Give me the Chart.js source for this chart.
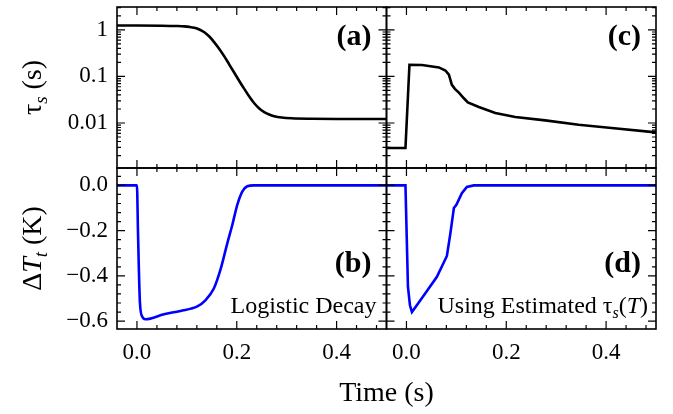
<!DOCTYPE html>
<html>
<head>
<meta charset="utf-8">
<script src="https://cdn.jsdelivr.net/npm/chart.js@4.4.0/dist/chart.umd.min.js"></script>
<style>
body { margin: 0; background: #fff; }
#wrap { width: 673px; height: 414px; position: relative; }
</style>
</head>
<body>
<div id="wrap"><canvas id="ctx"></canvas></div>
<script>
// (a) logistic decay of tau_s
const timeA = [-0.04, 0.0, 0.05, 0.08, 0.095, 0.105, 0.115, 0.125, 0.135, 0.145, 0.155, 0.165, 0.175, 0.185, 0.195, 0.205, 0.215, 0.225, 0.235, 0.245, 0.255, 0.265, 0.275, 0.29, 0.31, 0.35, 0.40, 0.50]
const tauA = [1.24, 1.24, 1.23, 1.21, 1.19, 1.16, 1.11, 1.02, 0.89, 0.72, 0.54, 0.39, 0.27, 0.18, 0.12, 0.08, 0.054, 0.037, 0.0265, 0.0205, 0.0172, 0.0152, 0.0140, 0.0131, 0.0126, 0.0123, 0.0122, 0.0122]

// (c) estimated tau_s(T)
const timeC = [-0.04, -0.002, 0.006, 0.031, 0.065, 0.078, 0.085, 0.091, 0.097, 0.105, 0.115, 0.123, 0.145, 0.178, 0.218, 0.278, 0.345, 0.411, 0.5]
const tauC = [0.0029, 0.0029, 0.178, 0.176, 0.156, 0.134, 0.109, 0.066, 0.054, 0.045, 0.034, 0.0277, 0.022, 0.0164, 0.0134, 0.0114, 0.0092, 0.0078, 0.0063]

// (b) delta T_t, logistic decay
const timeB = [-0.04, 0.0, 0.002, 0.006, 0.011, 0.017, 0.054, 0.087, 0.121, 0.137, 0.154, 0.167, 0.181, 0.191, 0.201, 0.211, 0.221, 0.234, 0.30, 0.50]
const dTB = [0, 0, -0.2, -0.52, -0.582, -0.592, -0.570, -0.555, -0.535, -0.508, -0.456, -0.375, -0.256, -0.175, -0.086, -0.027, -0.004, 0, 0, 0]

// (d) delta T_t, estimated tau_s(T)
const timeD = [-0.04, -0.002, 0.003, 0.007, 0.011, 0.035, 0.061, 0.081, 0.088, 0.095, 0.1, 0.111, 0.121, 0.135, 0.20, 0.50]
const dTD = [0, 0, -0.449, -0.53, -0.56, -0.486, -0.404, -0.312, -0.212, -0.1, -0.086, -0.034, -0.007, 0, 0, 0]

const xTickValues = [0, 0.2, 0.4]
const xTickLabels = ['0.0', '0.2', '0.4']
const xMinorValues = [0.04, 0.08, 0.12, 0.16, 0.24, 0.28, 0.32, 0.36, 0.44, 0.48]
const tauTickValues = [0.01, 0.1, 1]
const tauTickLabels = ['0.01', '0.1', '1']
const dTTickValues = [0, -0.2, -0.4, -0.6]
const dTTickLabels = ['0.0', '\u22120.2', '\u22120.4', '\u22120.6']
const dTMinorValues = [0.04, -0.04, -0.08, -0.12, -0.16, -0.24, -0.28, -0.32, -0.36, -0.44, -0.48, -0.52, -0.56]

const serif = '"Liberation Serif", "Times New Roman", serif'
const tickFont = { family: serif, size: 23 }

const toPoints = (xs, ys) => xs.map((x, i) => ({ x: x, y: ys[i] }))

const tauMinorValues = []
for (let k = -3; k <= 0; k++) {
    for (let m = 2; m <= 9; m++) {
        tauMinorValues.push(m * Math.pow(10, k))
    }
}

const panels = [
    { x: 'xL', y: 'yTau', xMinor: xMinorValues, yMajor: tauTickValues, yMinor: tauMinorValues, tag: '(a)' },
    { x: 'xR', y: 'yTau', xMinor: xMinorValues, yMajor: tauTickValues, yMinor: tauMinorValues, tag: '(c)' },
    { x: 'xL', y: 'yDT', xMinor: xMinorValues, yMajor: dTTickValues, yMinor: dTMinorValues, tag: '(b)' },
    { x: 'xR', y: 'yDT', xMinor: xMinorValues, yMajor: dTTickValues, yMinor: dTMinorValues, tag: '(d)' }
]

const drawRich = (ctx, parts, x, y, align) => {
    let w = 0
    parts.forEach(p => { ctx.font = p.font; w += ctx.measureText(p.text).width })
    let cx = align === 'right' ? x - w : (align === 'center' ? x - w / 2 : x)
    parts.forEach(p => {
        ctx.font = p.font
        ctx.fillText(p.text, cx, y + (p.dy || 0))
        cx += ctx.measureText(p.text).width
    })
}

// inward ticks on every side of every panel, plus the texts
const frameTicks = {
    id: 'frameTicks',
    afterDraw(chart) {
        const ctx = chart.ctx
        ctx.save()
        ctx.strokeStyle = '#000'
        ctx.fillStyle = '#000'
        panels.forEach(p => {
            const xs = chart.scales[p.x]
            const ys = chart.scales[p.y]
            const l = xs.left, r = xs.right, t = ys.top, b = ys.bottom

            const xMark = (vals, len) => {
                vals.forEach(v => {
                    const px = xs.getPixelForValue(v)
                    if (px < l || px > r) return
                    ctx.beginPath()
                    ctx.moveTo(px, b); ctx.lineTo(px, b - len)
                    ctx.moveTo(px, t); ctx.lineTo(px, t + len)
                    ctx.stroke()
                })
            }
            const yMark = (vals, len) => {
                vals.forEach(v => {
                    const py = ys.getPixelForValue(v)
                    if (py < t || py > b) return
                    ctx.beginPath()
                    ctx.moveTo(l, py); ctx.lineTo(l + len, py)
                    ctx.moveTo(r, py); ctx.lineTo(r - len, py)
                    ctx.stroke()
                })
            }
            ctx.lineWidth = 1.2
            xMark(xTickValues, 8)
            xMark(p.xMinor, 4)
            yMark(p.yMajor, 8)
            yMark(p.yMinor, 4)

            ctx.lineWidth = 1.6
            ctx.strokeRect(l, t, r - l, b - t)

            ctx.textAlign = 'left'
            ctx.textBaseline = 'alphabetic'
            const tagY = p.y === 'yTau' ? t + 38 : t + 104
            drawRich(ctx, [{ text: p.tag, font: 'bold 30px ' + serif }], r - 15, tagY, 'right')
        })

        const main = '24px ' + serif
        const sub = 'italic 16px ' + serif
        const bl = chart.scales.xL, br = chart.scales.xR, yd = chart.scales.yDT
        drawRich(ctx, [{ text: 'Logistic Decay', font: main }], bl.right - 10, yd.bottom - 16, 'right')
        drawRich(ctx, [
            { text: 'Using Estimated \u03C4', font: main },
            { text: 's', font: sub, dy: 5 },
            { text: '(', font: main },
            { text: 'T', font: 'italic 24px ' + serif },
            { text: ')', font: main }
        ], br.right - 8, yd.bottom - 16, 'right')

        // axis titles
        const area = chart.chartArea
        drawRich(ctx, [{ text: 'Time (s)', font: '28px ' + serif }], (area.left + area.right) / 2, 401, 'center')

        const yt = chart.scales.yTau
        ctx.save()
        ctx.translate(41, (yt.top + yt.bottom) / 2)
        ctx.rotate(-Math.PI / 2)
        drawRich(ctx, [
            { text: '\u03C4', font: '28px ' + serif },
            { text: 's', font: 'italic 19px ' + serif, dy: 6 },
            { text: ' (s)', font: '28px ' + serif }
        ], 0, 0, 'center')
        ctx.restore()

        ctx.save()
        ctx.translate(41, (yd.top + yd.bottom) / 2)
        ctx.rotate(-Math.PI / 2)
        drawRich(ctx, [
            { text: '\u0394', font: '28px ' + serif },
            { text: 'T', font: 'italic 28px ' + serif },
            { text: 't', font: 'italic 19px ' + serif, dy: 6 },
            { text: ' (K)', font: '28px ' + serif }
        ], 0, 0, 'center')
        ctx.restore()

        ctx.restore()
    }
}

const fixWidth = (scale) => {
    scale.width = 117
    scale.paddingTop = 0
    scale.paddingBottom = 0
}
const fixHeight = (scale) => {
    scale.height = 85
    scale.paddingLeft = 0
    scale.paddingRight = 0
}

const xAxis = () => ({
    type: 'linear',
    position: 'bottom',
    stack: 'time',
    stackWeight: 1,
    min: -0.04,
    max: 0.5,
    grid: { display: false, drawTicks: false, tickLength: 0 },
    border: { display: false },
    afterBuildTicks: (scale) => { scale.ticks = xTickValues.map(v => ({ value: v })) },
    afterFit: fixHeight,
    ticks: {
        autoSkip: false,
        maxRotation: 0,
        padding: 10,
        color: '#000',
        font: tickFont,
        callback: (value, index) => xTickLabels[index]
    }
})

const config = {
    type: 'line',
    data: {
        datasets: [
            {
                label: 'tau logistic',
                data: toPoints(timeA, tauA),
                xAxisID: 'xL', yAxisID: 'yTau',
                borderColor: '#000', borderWidth: 2.6,
                pointRadius: 0, cubicInterpolationMode: 'monotone'
            },
            {
                label: 'tau estimated',
                data: toPoints(timeC, tauC),
                xAxisID: 'xR', yAxisID: 'yTau',
                borderColor: '#000', borderWidth: 2.6,
                pointRadius: 0, tension: 0
            },
            {
                label: 'dT logistic',
                data: toPoints(timeB, dTB),
                xAxisID: 'xL', yAxisID: 'yDT',
                borderColor: '#0000ff', borderWidth: 2.6,
                pointRadius: 0, cubicInterpolationMode: 'monotone'
            },
            {
                label: 'dT estimated',
                data: toPoints(timeD, dTD),
                xAxisID: 'xR', yAxisID: 'yDT',
                borderColor: '#0000ff', borderWidth: 2.6,
                pointRadius: 0, tension: 0
            }
        ]
    },
    options: {
        responsive: true,
        maintainAspectRatio: false,
        animation: false,
        layout: { padding: { left: 0, right: 17, top: 7, bottom: 0 } },
        plugins: {
            legend: { display: false },
            tooltip: { enabled: false }
        },
        scales: {
            xL: xAxis(),
            xR: xAxis(),
            yDT: {
                type: 'linear',
                position: 'left',
                stack: 'value',
                stackWeight: 1,
                min: -0.635,
                max: 0.077,
                grid: { display: false, drawTicks: false, tickLength: 0 },
                border: { display: false },
                afterBuildTicks: (scale) => { scale.ticks = dTTickValues.map(v => ({ value: v })) },
                afterFit: fixWidth,
                ticks: {
                    autoSkip: false,
                    padding: 9,
                    color: '#000',
                    font: tickFont,
                    callback: (value, index) => dTTickLabels[index]
                }
            },
            yTau: {
                type: 'logarithmic',
                position: 'left',
                stack: 'value',
                stackWeight: 1,
                min: 0.00108,
                max: 3.1,
                grid: { display: false, drawTicks: false, tickLength: 0 },
                border: { display: false },
                afterBuildTicks: (scale) => { scale.ticks = tauTickValues.map(v => ({ value: v })) },
                afterFit: fixWidth,
                ticks: {
                    autoSkip: false,
                    padding: 9,
                    color: '#000',
                    font: tickFont,
                    callback: (value, index) => tauTickLabels[index]
                }
            }
        }
    },
    plugins: [frameTicks]
}

const myChart = new Chart(document.getElementById('ctx'), config)
</script>
</body>
</html>
